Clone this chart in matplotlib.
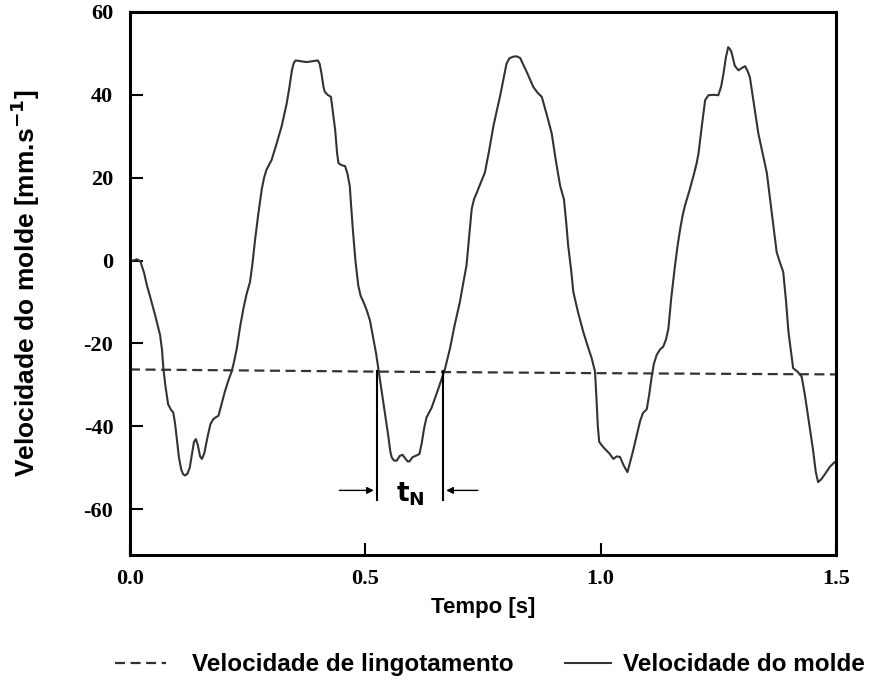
import matplotlib
matplotlib.use('Agg')
import matplotlib.pyplot as plt

plt.rcParams['axes.unicode_minus'] = False

# mould velocity trace: time [s], velocity [mm/s]
tempo = [0.007, 0.015, 0.022, 0.030, 0.036, 0.042, 0.053, 0.064, 0.068, 0.071,
         0.075, 0.081, 0.087, 0.092, 0.096, 0.100, 0.104, 0.109, 0.113, 0.117,
         0.122, 0.127, 0.132, 0.136, 0.140, 0.144, 0.149, 0.153, 0.158, 0.165,
         0.171, 0.177, 0.183, 0.188, 0.195, 0.202, 0.209, 0.216, 0.221, 0.227,
         0.234, 0.241, 0.248, 0.255, 0.260, 0.266, 0.273, 0.280, 0.285, 0.290,
         0.301, 0.311, 0.322, 0.333, 0.339, 0.344, 0.348, 0.352, 0.375, 0.399,
         0.403, 0.407, 0.411, 0.414, 0.420, 0.427, 0.431, 0.436, 0.440, 0.443,
         0.450, 0.457, 0.462, 0.467, 0.470, 0.474, 0.479, 0.485, 0.490, 0.496,
         0.503, 0.510, 0.517, 0.523, 0.528, 0.535, 0.542, 0.549, 0.553, 0.556,
         0.561, 0.567, 0.573, 0.579, 0.585, 0.590, 0.594, 0.600, 0.610, 0.615,
         0.620, 0.625, 0.630, 0.641, 0.655, 0.669, 0.680, 0.690, 0.701, 0.708,
         0.715, 0.720, 0.726, 0.731, 0.737, 0.745, 0.754, 0.763, 0.772, 0.779,
         0.786, 0.793, 0.800, 0.806, 0.814, 0.821, 0.829, 0.843, 0.857, 0.866,
         0.875, 0.886, 0.896, 0.905, 0.914, 0.922, 0.927, 0.931, 0.937, 0.942,
         0.952, 0.963, 0.972, 0.981, 0.988, 0.991, 0.994, 0.997, 1.003, 1.009,
         1.018, 1.027, 1.034, 1.041, 1.049, 1.057, 1.063, 1.069, 1.077, 1.084,
         1.090, 1.098, 1.103, 1.108, 1.113, 1.119, 1.126, 1.133, 1.139, 1.144,
         1.150, 1.158, 1.164, 1.169, 1.174, 1.179, 1.189, 1.199, 1.204, 1.208,
         1.215, 1.222, 1.229, 1.240, 1.250, 1.256, 1.261, 1.266, 1.271, 1.275,
         1.278, 1.285, 1.293, 1.300, 1.307, 1.312, 1.317, 1.326, 1.335, 1.344,
         1.353, 1.363, 1.374, 1.381, 1.388, 1.394, 1.399, 1.405, 1.409, 1.418,
         1.427, 1.434, 1.441, 1.451, 1.457, 1.462, 1.469, 1.477, 1.487, 1.497]
v_molde = [0.0, 0.3, -0.2, -3.0, -6.0, -8.4, -13.0, -18.0, -21.5, -26.0,
           -30.0, -34.7, -36.0, -36.7, -39.5, -43.5, -47.5, -50.5, -51.6, -51.9,
           -51.5, -50.0, -46.5, -43.8, -43.1, -44.5, -47.3, -47.9, -46.5, -42.5,
           -39.5, -38.3, -37.8, -37.5, -34.5, -31.5, -29.0, -26.8, -24.5, -21.2,
           -16.0, -11.6, -8.0, -5.2, -1.0, 5.2, 11.5, 17.2, 20.0, 21.9,
           24.3, 28.0, 32.3, 37.9, 42.0, 45.9, 47.7, 48.3, 47.9, 48.3,
           47.5, 45.1, 42.0, 40.7, 40.0, 39.5, 36.0, 31.5, 26.0, 23.5,
           23.0, 22.8, 21.0, 18.0, 13.0, 6.8, 0.0, -6.0, -8.5, -10.0,
           -12.0, -14.5, -18.8, -22.5, -26.3, -31.5, -37.1, -42.5, -46.0, -47.5,
           -48.3, -48.3, -47.2, -46.9, -47.8, -48.5, -48.5, -47.5, -47.0, -46.7,
           -44.0, -40.5, -37.9, -35.5, -31.0, -26.3, -21.2, -15.5, -10.0, -5.5,
           -1.2, 5.0, 12.4, 14.8, 16.4, 18.7, 21.2, 26.5, 32.3, 36.0,
           39.5, 43.5, 47.5, 48.8, 49.2, 49.3, 48.9, 45.5, 41.9, 40.5,
           39.5, 35.0, 30.7, 24.0, 18.0, 14.8, 9.0, 3.6, -2.0, -7.6,
           -12.5, -17.2, -20.5, -23.6, -26.8, -33.0, -40.0, -43.8, -44.7, -45.5,
           -46.5, -47.9, -47.3, -47.4, -49.5, -51.1, -48.5, -45.9, -42.0, -38.7,
           -36.8, -35.9, -32.5, -28.4, -25.0, -22.8, -21.5, -20.8, -19.0, -16.4,
           -9.0, -1.2, 4.0, 7.6, 10.8, 13.2, 17.0, 21.2, 23.5, 25.9,
           32.5, 38.7, 39.9, 40.0, 39.9, 42.0, 45.1, 49.0, 51.5, 51.0,
           50.3, 47.0, 45.9, 46.5, 46.9, 45.8, 44.3, 37.5, 30.7, 26.0,
           21.2, 12.0, 2.0, -0.5, -2.8, -10.0, -17.2, -22.5, -26.0, -26.8,
           -28.0, -32.5, -37.9, -45.5, -51.0, -53.5, -52.8, -51.5, -49.8, -48.7]

# casting speed (dashed)
tempo_ling = [0.0, 0.5, 1.0, 1.5]
v_ling = [-26.3, -26.8, -27.2, -27.5]

# t_N interval limits
t_n = [0.524, 0.666]

fig = plt.figure(figsize=(8.74, 6.80), dpi=100)
ax = fig.add_axes([0.1487, 0.1838, 0.8078, 0.7986])

l_ling, = ax.plot(tempo_ling, v_ling, color='#333333', linewidth=1.6,
                  linestyle=(0, (4.5, 2.5)), label='Velocidade de lingotamento')
l_molde, = ax.plot(tempo, v_molde, color='#333333', linewidth=1.5,
                   solid_joinstyle='round', label='Velocidade do molde')

# negative strip time markers
for t in t_n:
    ax.plot([t, t], [-26.6, -57.9], color='black', linewidth=1.5)
ax.annotate('', xy=(t_n[0], -55.5), xytext=(0.439, -55.5),
            arrowprops=dict(arrowstyle='-|>', color='black', lw=1.0, mutation_scale=10))
ax.annotate('', xy=(t_n[1], -55.5), xytext=(0.745, -55.5),
            arrowprops=dict(arrowstyle='-|>', color='black', lw=1.0, mutation_scale=10))
ax.text(0.596, -56.5, r'$\mathbf{t}_{\mathbf{N}}$', fontsize=19, ha='center', va='center')

ax.set_xlim(0, 1.5)
ax.set_ylim(-71.1, 60)
ax.set_xticks([0.0, 0.5, 1.0, 1.5])
ax.set_xticklabels(['0.0', '0.5', '1.0', '1.5'])
ax.set_yticks([-60, -40, -20, 0, 20, 40, 60])

for side in ['top', 'bottom', 'left', 'right']:
    ax.spines[side].set_linewidth(2.2)

ax.tick_params(direction='in', length=9, width=1.5, top=False, right=False)
ax.tick_params(axis='x', pad=10)
ax.tick_params(axis='y', pad=12)
for lbl in ax.get_xticklabels() + ax.get_yticklabels():
    lbl.set_fontfamily('Liberation Serif')
    lbl.set_fontweight('bold')
    lbl.set_fontsize(16)

ax.set_xlabel('Tempo [s]', fontfamily='Liberation Sans', fontweight='bold', fontsize=16, labelpad=6)
ax.set_ylabel(r'Velocidade do molde [mm.s$^{\mathbf{-1}}$]', fontfamily='Liberation Sans',
              fontweight='bold', fontsize=19, labelpad=30)

leg_font = {'family': 'Liberation Sans', 'weight': 'bold', 'size': 17.5}
leg1 = fig.legend(handles=[l_ling], loc='center left', bbox_to_anchor=(0.1316, 0.0221),
                  frameon=False, borderpad=0, borderaxespad=0, handlelength=2.1,
                  handletextpad=1.05, prop=leg_font)
leg2 = fig.legend(handles=[l_molde], loc='center left', bbox_to_anchor=(0.6465, 0.0221),
                  frameon=False, borderpad=0, borderaxespad=0, handlelength=1.9,
                  handletextpad=0.5, prop=leg_font)

fig.savefig('out.png', dpi=100)
